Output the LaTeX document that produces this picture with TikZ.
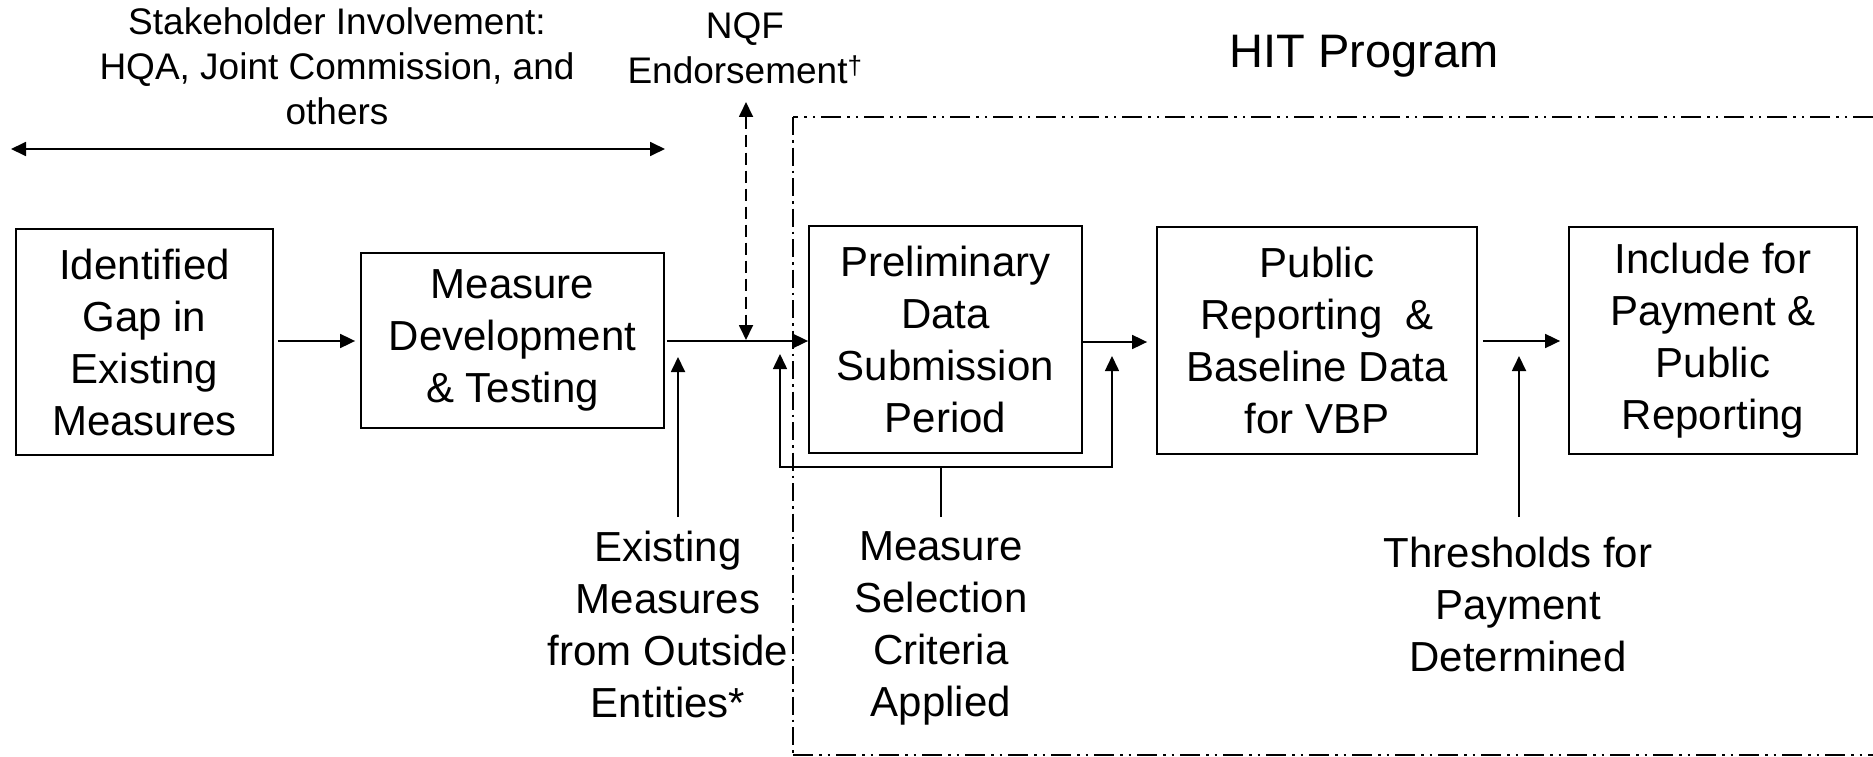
\documentclass[tikz,border=0pt]{standalone}
\usepackage{fontspec}
\setmainfont{Liberation Sans}
\usetikzlibrary{arrows.meta}
\begin{document}
\begin{tikzpicture}[x=1pt,y=-1pt,
  boxnode/.style={draw,line width=1.8pt,inner sep=0pt,align=center,font=\fontsize{42}{52}\selectfont},
  lbl/.style={inner sep=0pt,align=center,font=\fontsize{42}{52}\selectfont},
  toplbl/.style={inner sep=0pt,align=center,font=\fontsize{37}{45}\selectfont},
  arr/.style={line width=1.8pt,-{Triangle[length=15pt,width=14pt]}},
  dbl/.style={line width=1.8pt,{Triangle[length=15pt,width=14pt]}-{Triangle[length=15pt,width=14pt]}},
  dsh/.style={line width=1.8pt,dash pattern=on 12pt off 6pt,{Triangle[length=15pt,width=14pt]}-{Triangle[length=15pt,width=14pt]}},
  brk/.style={line width=1.5pt},
  framehz/.style={line width=1.6pt,dash pattern=on 20pt off 6pt on 2.5pt off 6pt on 2.5pt off 6pt},
  framevt/.style={line width=1.6pt,dash pattern=on 18pt off 5pt on 2.5pt off 5pt}
]
\useasboundingbox (0,0) rectangle (1873,757);

% boxes
\node[boxnode,minimum width=257pt,minimum height=226pt] (b1) at (144.5,342) {Identified\\Gap in\\Existing\\Measures};
\node[boxnode,minimum width=303pt,minimum height=175pt] (b2) at (512.5,340.5) {Measure\\Development\\\& Testing};
\node[boxnode,minimum width=273pt,minimum height=227pt] (b3) at (945.5,339.5) {Preliminary\\Data\\Submission\\Period};
\node[boxnode,minimum width=320pt,minimum height=227pt] (b4) at (1317,340.5) {Public\\Reporting~~\&\\Baseline Data\\for VBP};
\node[boxnode,minimum width=288pt,minimum height=227pt] (b5) at (1713,340.5) {Include for\\Payment \&\\Public\\Reporting};

% labels
\node[toplbl] (stake) at (337,66) {Stakeholder Involvement:\\HQA, Joint Commission, and\\others};
\node[toplbl] (nqf) at (745,48) {NQF\\Endorsement\textsuperscript{†}};
\node[inner sep=0pt,font=\fontsize{47}{56}\selectfont,anchor=base] (hit) at (1364,68) {HIT Program};
\node[lbl] (exist) at (668,624.5) {Existing\\Measures\\from Outside\\Entities*};
\node[lbl] (msel) at (941,628.8) {Measure\\Selection\\Criteria\\Applied};
\node[lbl] (thr) at (1518,604) {Thresholds for\\Payment\\Determined};

% frame
\coordinate (ftr) at (1873,117);
\coordinate (ftl) at (793,117);
\coordinate (fbl) at (793,755);
\coordinate (fbr) at (1873,755);
\draw[framehz] (ftr) -- (ftl);
\draw[framevt] (ftl) -- (fbl);
\draw[framehz] (fbl) -- (fbr);

% top double arrow
\coordinate (sl) at (11,149);
\coordinate (sr) at (665,149);
\draw[dbl] (sl) -- (sr);

% NQF dashed arrow
\coordinate (nqftop) at (746,102);
\coordinate (nqfbot) at (746,340);
\draw[dsh] (nqftop) -- (nqfbot);

% main flow
\draw[arr] ([xshift=4pt]b1.east |- 0,341) -- ([xshift=-5pt]b2.west |- 0,341);
\draw[arr] ([xshift=2pt]b2.east |- 0,341) -- (b3.west |- 0,341);
\draw[arr] (b3.east |- 0,342) -- ([xshift=-9pt]b4.west |- 0,342);
\draw[arr] ([xshift=5pt]b4.east |- 0,341) -- ([xshift=-8pt]b5.west |- 0,341);

% existing measures arrow
\coordinate (exbot) at (678,517);
\coordinate (extip) at (678,357);
\draw[arr] (exbot) -- (extip);

% measure selection bracket
\coordinate (msbot) at (941,517);
\coordinate (msmid) at (941,467);
\coordinate (bl) at (780,467);
\coordinate (br) at (1112,467);
\coordinate (bltip) at (780,354);
\coordinate (brtip) at (1112,356);
\draw[brk] (msbot) -- (msmid);
\draw[brk,-{Triangle[length=15pt,width=14pt]}] (msmid) -- (bl) -- (bltip);
\draw[brk,-{Triangle[length=15pt,width=14pt]}] (msmid) -- (br) -- (brtip);

% thresholds arrow
\coordinate (thbot) at (1519,517);
\coordinate (thtip) at (1519,356);
\draw[arr] (thbot) -- (thtip);
\end{tikzpicture}
\end{document}
